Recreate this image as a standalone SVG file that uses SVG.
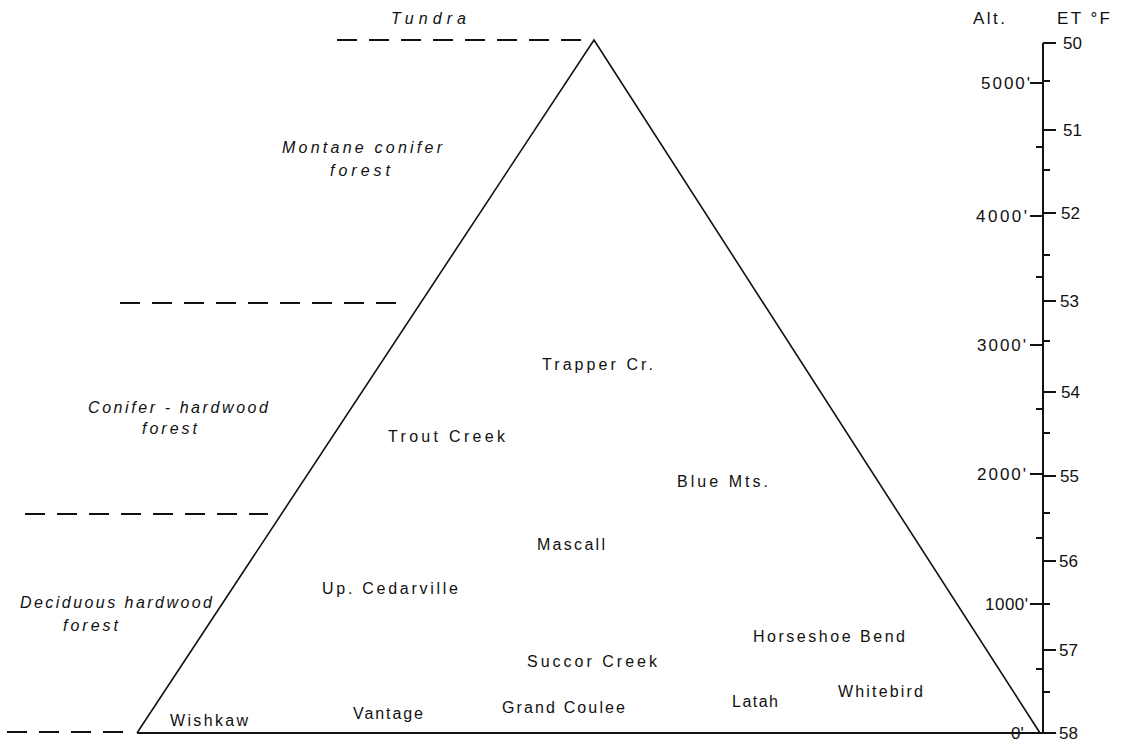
<svg xmlns="http://www.w3.org/2000/svg" width="1123" height="742" viewBox="0 0 1123 742">
<style>
.lbl{font-family:"Liberation Sans",Arial,sans-serif;font-size:16px;fill:#111;}
.zone{font-family:"Liberation Sans",Arial,sans-serif;font-size:16px;font-style:italic;fill:#111;}
.ax{font-family:"Liberation Sans",Arial,sans-serif;font-size:17px;fill:#111;}
.dash{stroke:#111;stroke-width:2;stroke-dasharray:20 12;fill:none;}
.tick{stroke:#111;stroke-width:1.8;}
</style>
<rect width="1123" height="742" fill="#fff"/>
<g id="triangle">
<path d="M137 733 L594 40 L1040 733" fill="none" stroke="#111" stroke-width="1.6" stroke-linejoin="miter"/>
<line x1="137" y1="733" x2="1043" y2="733" stroke="#111" stroke-width="2"/>
</g>
<g id="connectors">
<line class="dash" x1="337" y1="40" x2="583" y2="40"/>
<line class="dash" x1="120" y1="303" x2="403" y2="303"/>
<line class="dash" x1="25" y1="514" x2="268" y2="514"/>
<line class="dash" x1="7" y1="732" x2="127" y2="732"/>
</g>
<g id="zones">
<text class="zone" x="391" y="24" textLength="75" lengthAdjust="spacing">Tundra</text>
<text class="zone" x="282" y="153" textLength="160" lengthAdjust="spacing">Montane conifer</text>
<text class="zone" x="330" y="176" textLength="60" lengthAdjust="spacing">forest</text>
<text class="zone" x="88" y="413" textLength="180" lengthAdjust="spacing">Conifer - hardwood</text>
<text class="zone" x="142" y="434" textLength="55" lengthAdjust="spacing">forest</text>
<text class="zone" x="20" y="608" textLength="192" lengthAdjust="spacing">Deciduous hardwood</text>
<text class="zone" x="63" y="631" textLength="55" lengthAdjust="spacing">forest</text>
</g>
<g id="sites">
<g id="trapper"><text class="lbl" x="542" y="370" textLength="111" lengthAdjust="spacing">Trapper Cr.</text></g>
<g id="trout"><text class="lbl" x="388" y="442" textLength="117" lengthAdjust="spacing">Trout Creek</text></g>
<g id="bluemts"><text class="lbl" x="677" y="487" textLength="91" lengthAdjust="spacing">Blue Mts.</text></g>
<g id="mascall"><text class="lbl" x="537" y="550" textLength="68" lengthAdjust="spacing">Mascall</text></g>
<g id="cedarville"><text class="lbl" x="322" y="594" textLength="136" lengthAdjust="spacing">Up.  Cedarville</text></g>
<g id="horseshoe"><text class="lbl" x="753" y="642" textLength="152" lengthAdjust="spacing">Horseshoe Bend</text></g>
<g id="succor"><text class="lbl" x="527" y="667" textLength="130" lengthAdjust="spacing">Succor Creek</text></g>
<g id="whitebird"><text class="lbl" x="838" y="697" textLength="85" lengthAdjust="spacing">Whitebird</text></g>
<g id="latah"><text class="lbl" x="732" y="707" textLength="46" lengthAdjust="spacing">Latah</text></g>
<g id="grandcoulee"><text class="lbl" x="502" y="713" textLength="123" lengthAdjust="spacing">Grand Coulee</text></g>
<g id="vantage"><text class="lbl" x="353" y="719" textLength="70" lengthAdjust="spacing">Vantage</text></g>
<g id="wishkaw"><text class="lbl" x="170" y="726" textLength="78" lengthAdjust="spacing">Wishkaw</text></g>
</g>
<g id="axis">
<line x1="1043" y1="43" x2="1043" y2="734" stroke="#111" stroke-width="2"/>
<text class="ax" x="973" y="24" textLength="32" lengthAdjust="spacing">Alt.</text>
<text class="ax" x="1057" y="24" textLength="53" lengthAdjust="spacing">ET °F</text>
<path class="tick" d="M1043 43H1056M1043 130H1056M1043 213H1056M1043 301H1056M1043 392H1056M1043 476H1056M1043 561H1056M1043 650H1056M1043 733H1056"/>
<path class="tick" d="M1030 83H1043M1030 216H1043M1030 345H1043M1030 474H1043M1030 604H1043M1030 733H1043"/>
<path class="tick" d="M1043 81H1050M1043 170H1050M1043 255H1050M1043 341H1050M1043 433H1050M1043 513H1050M1043 604H1050M1043 692H1050M1036 147H1043M1036 277H1043M1036 409H1043M1036 538H1043M1036 669H1043"/>
<text class="ax" x="1063" y="49">50</text>
<text class="ax" x="1063" y="136">51</text>
<text class="ax" x="1061" y="219">52</text>
<text class="ax" x="1060" y="307">53</text>
<text class="ax" x="1061" y="398">54</text>
<text class="ax" x="1060" y="482">55</text>
<text class="ax" x="1059" y="567">56</text>
<text class="ax" x="1059" y="656">57</text>
<text class="ax" x="1059" y="739">58</text>
<text class="ax" x="981" y="89" textLength="49" lengthAdjust="spacing">5000'</text>
<text class="ax" x="976" y="222" textLength="51" lengthAdjust="spacing">4000'</text>
<text class="ax" x="977" y="351" textLength="49" lengthAdjust="spacing">3000'</text>
<text class="ax" x="977" y="480" textLength="49" lengthAdjust="spacing">2000'</text>
<text class="ax" x="985" y="610" textLength="43" lengthAdjust="spacing">1000'</text>
<text class="ax" x="1011" y="739">0'</text>
</g>
</svg>
